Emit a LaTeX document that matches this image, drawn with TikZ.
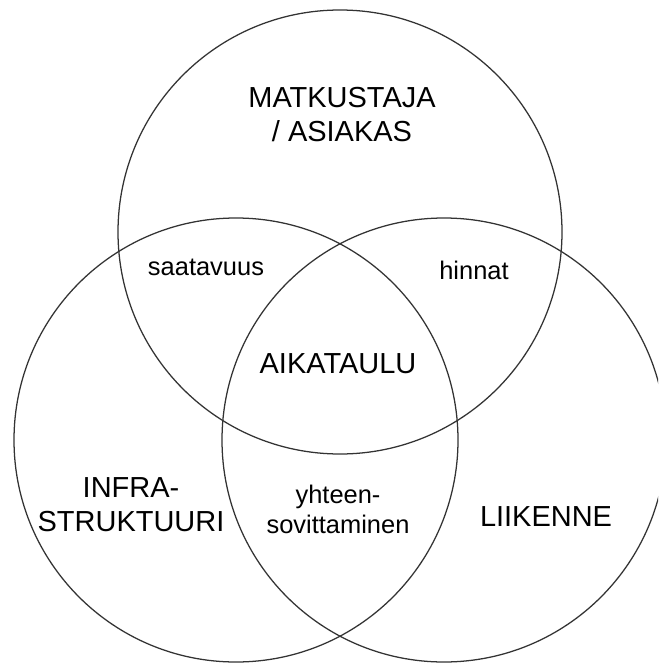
\documentclass[tikz,border=0pt]{standalone}
\usepackage{fontspec}
\setmainfont{Liberation Sans}
\begin{document}
\begin{tikzpicture}[x=0.025cm,y=-0.025cm,
  ring/.style={line width=0.9pt,draw=black!80},
  biglabel/.style={align=center,inner sep=0pt,font=\fontsize{20.6}{24.2}\selectfont},
  smalllabel/.style={align=center,inner sep=0pt,font=\fontsize{18.1}{21.3}\selectfont}]
\clip (0,0) rectangle (658,663);
\coordinate (ctop) at (340,232);
\coordinate (cleft) at (236,440);
\coordinate (cright) at (444,440);
\draw[ring] (ctop) circle[radius=222];
\draw[ring] (cleft) circle[radius=222];
\draw[ring] (cright) circle[radius=222];
\node[biglabel,anchor=north] (traveller) at (342,87) {MATKUSTAJA\\/ ASIAKAS};
\node[biglabel,anchor=north] (infra) at (131,477) {INFRA-\\STRUKTUURI};
\node[biglabel,anchor=base] (traffic) at (546,526) {LIIKENNE};
\node[biglabel,anchor=base] (timetable) at (338,373) {AIKATAULU};
\node[smalllabel,anchor=base] (access) at (206,275) {saatavuus};
\node[smalllabel,anchor=base] (prices) at (474,279) {hinnat};
\node[smalllabel,anchor=north] (coordination) at (338,485) {yhteen-\\sovittaminen};
\end{tikzpicture}
\end{document}
